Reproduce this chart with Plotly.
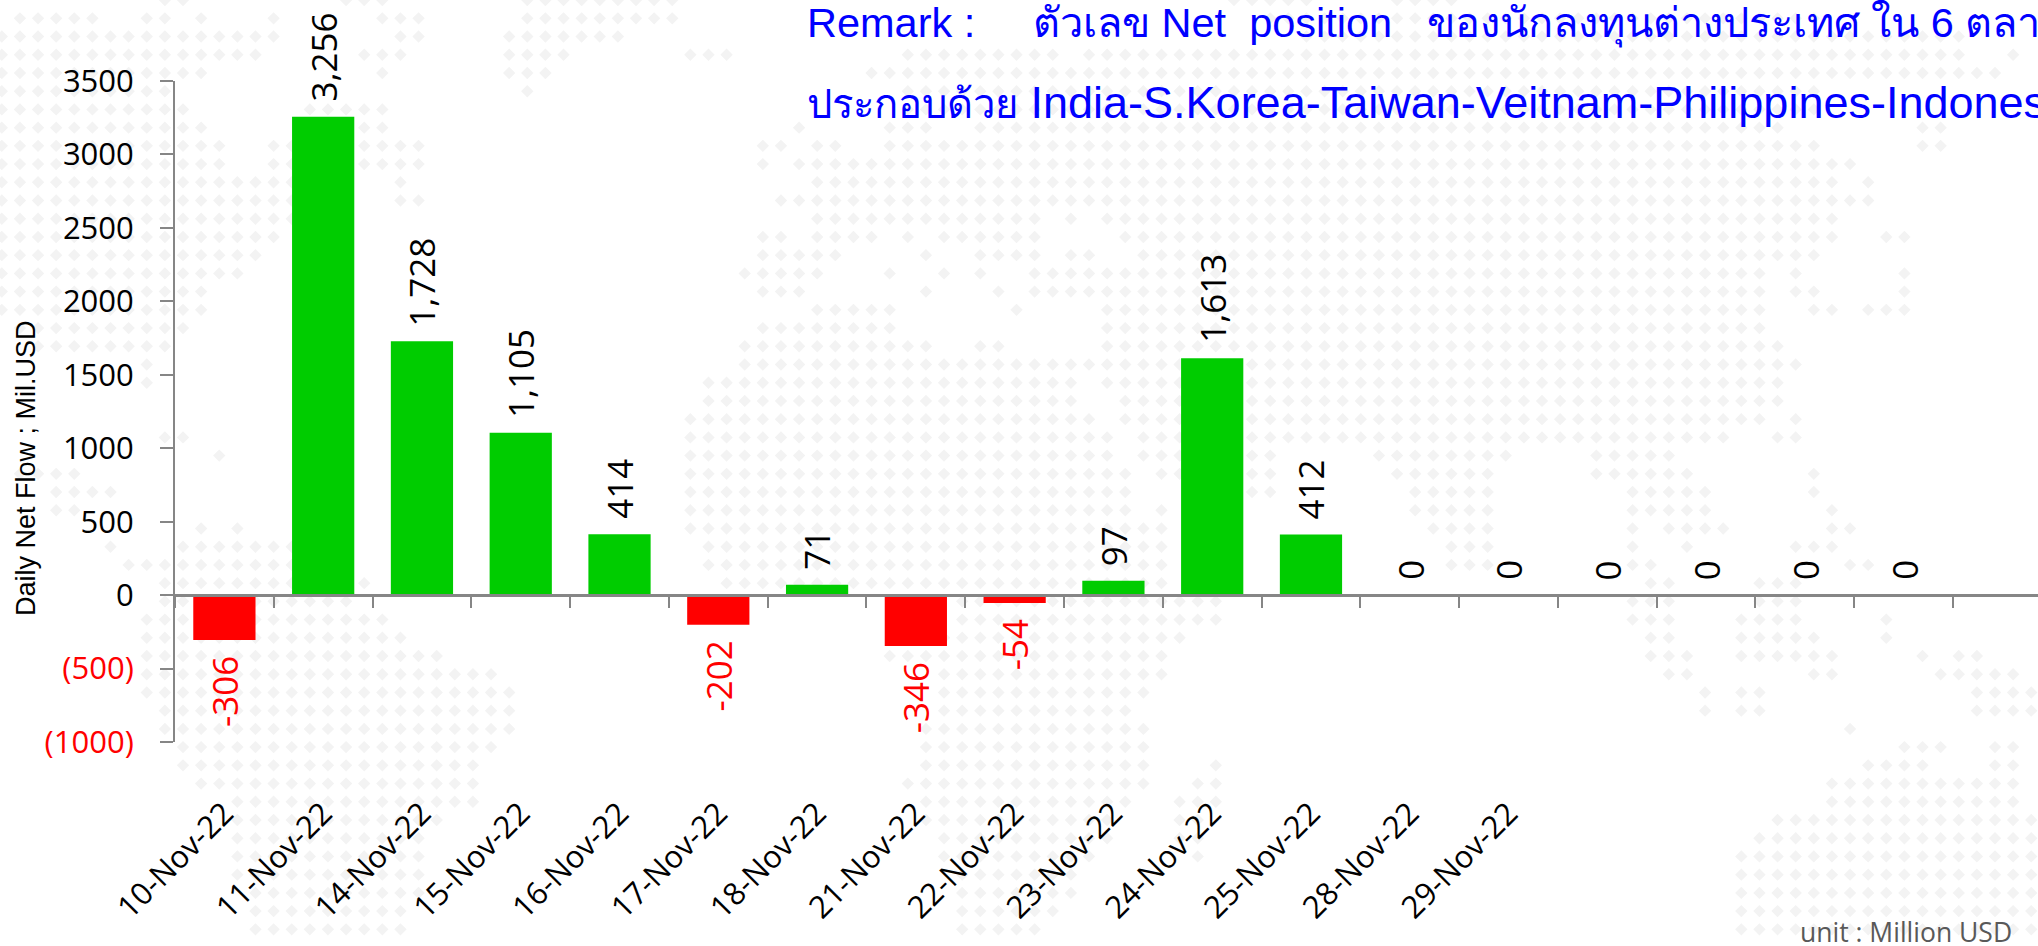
import plotly.graph_objects as go

dates = ["10-Nov-22","11-Nov-22","14-Nov-22","15-Nov-22","16-Nov-22","17-Nov-22","18-Nov-22",
         "21-Nov-22","22-Nov-22","23-Nov-22","24-Nov-22","25-Nov-22","28-Nov-22","29-Nov-22",
         "30-Nov-22","1-Dec-22","2-Dec-22","5-Dec-22"]
labelled_dates = dates[:14]
net_flow = [-306,3256,1728,1105,414,-202,71,-346,-54,97,1613,412,0,0,0,0,0,0]
y_ticks = [-1000,-500,0,500,1000,1500,2000,2500,3000,3500]
y_text = ['<span style="color:#ff0000">(1000)</span>','<span style="color:#ff0000">(500)</span>',
          "0","500","1000","1500","2000","2500","3000","3500"]
y_title = "Daily Net Flow ; Mil.USD"
remark1 = "Remark :     ตัวเลข Net  position   ของนักลงทุนต่างประเทศ ใน 6 ตลาด"
remark2_thai = "ประกอบด้วย"
remark2_latin = " India-S.Korea-Taiwan-Veitnam-Philippines-Indonesia"
unit = "unit : Million USD"

# Decorative dotted world map behind the chart: for each grid row, the runs of filled columns.
map_rows = [
 [(9,10),(19,21),(29,37),(68,72),(77,80)],
 [(1,5),(8,9),(11,11),(15,15),(21,23),(29,37),(70,100)],
 [(0,15),(22,23),(28,34),(72,108)],
 [(0,14),(20,22),(28,31),(38,40),(50,58),(60,108),(111,111)],
 [(0,11),(21,21),(28,30),(48,110)],
 [(0,9),(29,29),(50,100)],
 [(0,10),(17,21),(50,100)],
 [(0,11),(20,21),(44,44),(49,51),(54,98),(106,107)],
 [(0,12),(15,16),(20,23),(42,43),(45,46),(49,100),(106,107)],
 [(0,12),(15,16),(20,23),(42,42),(44,102)],
 [(0,16),(22,22),(45,101),(103,103)],
 [(0,16),(22,23),(43,103)],
 [(0,16),(45,57),(59,59),(61,101)],
 [(0,15),(42,43),(45,48),(50,50),(52,57),(62,101),(104,105)],
 [(0,14),(42,46),(51,51),(54,57),(59,60),(63,100)],
 [(0,13),(41,45),(49,49),(52,52),(54,54),(57,97),(99,99),(105,105)],
 [(0,11),(42,44),(51,51),(55,55),(57,97),(99,100),(105,105)],
 [(0,11),(45,49),(56,56),(61,97),(100,101),(103,105)],
 [(1,10),(42,49),(61,97)],
 [(2,9),(41,51),(54,55),(61,98)],
 [(8,8),(41,99)],
 [(8,8),(39,59),(61,98)],
 [(39,59),(62,98)],
 [(38,60),(62,97),(99,99)],
 [(9,10),(38,61),(63,95),(98,99)],
 [(12,12),(38,61),(63,70),(76,83),(88,92)],
 [(1,4),(38,62),(64,70),(77,82),(88,93),(100,100)],
 [(3,6),(38,62),(69,70),(78,82),(90,94),(100,100)],
 [(3,4),(38,62),(64,64),(78,82),(90,94),(101,101)],
 [(11,11),(13,13),(38,64),(79,82),(90,90),(92,95),(101,102)],
 [(6,6),(10,16),(39,64),(80,82),(90,90),(93,93),(99,101)],
 [(7,16),(39,64),(80,82),(90,91),(102,103)],
 [(9,16),(20,20),(40,64),(91,92),(97,99)],
 [(9,19),(53,67),(90,92),(97,99)],
 [(8,21),(53,67),(90,92),(96,99),(104,104)],
 [(8,22),(52,65),(91,92),(96,100),(104,104)],
 [(8,24),(49,64),(91,93),(96,101),(106,106),(108,109)],
 [(8,27),(52,64),(92,93),(100,101),(107,111)],
 [(8,28),(52,63),(94,94),(96,97),(109,112)],
 [(9,28),(52,62),(94,94),(96,97),(109,112)],
 [(9,28),(51,63),(102,102)],
 [(10,27),(51,63),(105,107),(110,111)],
 [(10,26),(51,63),(67,67),(103,106),(110,111)],
 [(11,26),(50,63),(66,67),(101,111)],
 [(13,26),(51,62),(65,67),(101,111)],
 [(13,24),(51,61),(65,66),(98,112)],
 [(13,23),(52,61),(65,66),(97,112)],
 [(13,23),(52,60),(66,66),(96,112)],
 [(13,23),(53,59),(96,112)],
 [(14,23),(53,59),(96,112)],
 [(14,22),(53,58),(96,112)],
 [(14,22),(53,57),(96,112)],
 [(14,21),(54,56),(96,112)],
]
map_x0, map_dx = 1.8, 18.12
map_y0, map_dy = 0.1, 18.22
dot_x, dot_y = [], []
for r, runs in enumerate(map_rows):
    for a, b in runs:
        for c in range(a, b + 1):
            dot_x.append(map_x0 + c * map_dx)
            dot_y.append(map_y0 + r * map_dy)

GREEN, RED = "#00cc00", "#ff0000"
AXIS = "#868686"
FONT = "Open Sans"
W, H = 2038, 946
L, T, B = 175, 81, 742   # plot area in page pixels
def px(x): return x / W
def py(y): return (H - y) / H
ZERO_Y = T + (B - T) * 3500 / 4500

fig = go.Figure()
# base subplot covers the whole page and carries the decorative map
fig.add_scatter(x=dot_x, y=dot_y, xaxis="x", yaxis="y", mode="markers", cliponaxis=False, hoverinfo="skip",
                marker=dict(symbol="diamond", size=9.5, color="#f3f3f3", line_width=0), showlegend=False)
fig.add_scatter(x=dates, y=[None]*len(dates), xaxis="x2", yaxis="y2", mode="markers", showlegend=False)
fig.add_bar(x=dates, y=net_flow, width=0.63, xaxis="x3", yaxis="y2",
            marker=dict(color=[GREEN if v >= 0 else RED for v in net_flow], line_width=0),
            hoverinfo="x+y", showlegend=False)

for d, v in zip(dates, net_flow):
    fig.add_annotation(x=d, y=v, xref="x3", yref="y2", text=f"{v:,}", textangle=-90, showarrow=False,
                       yanchor="bottom" if v >= 0 else "top", yshift=13 if v >= 0 else -14,
                       font=dict(family=FONT, size=35, color="#000000" if v >= 0 else RED))

x_range = [-0.5, 18.36]
fig.update_layout(
    width=W, height=H, autosize=False, showlegend=False,
    paper_bgcolor="#ffffff", plot_bgcolor="rgba(0,0,0,0)",
    margin=dict(l=0, r=0, t=0, b=0, autoexpand=False),
    font=dict(family=FONT, color="#000000"),
    xaxis=dict(range=[0, W], domain=[0, 1], visible=False, fixedrange=True),
    yaxis=dict(range=[H, 0], domain=[0, 1], visible=False, fixedrange=True),
    xaxis2=dict(type="category", categoryorder="array", categoryarray=dates, range=x_range,
                domain=[px(L), 1], anchor="y2", side="bottom",
                tickmode="array", tickvals=labelled_dates, ticktext=labelled_dates, tickangle=-45,
                ticks="", showgrid=False, showline=False, zeroline=False,
                ticklabelstandoff=46, tickfont=dict(family=FONT, size=31)),
    xaxis3=dict(type="category", categoryorder="array", categoryarray=dates, range=x_range,
                overlaying="x2", anchor="free", position=py(ZERO_Y), side="bottom",
                showticklabels=False, tickson="boundaries", ticks="outside", ticklen=11, tickwidth=2,
                tickcolor=AXIS, showline=True, linecolor=AXIS, linewidth=3, showgrid=False, zeroline=False),
    yaxis2=dict(range=[-1000,3500], domain=[py(B), py(T)], anchor="x2", side="left",
                tickmode="array", tickvals=y_ticks, ticktext=y_text,
                ticks="outside", ticklen=13, tickwidth=2, tickcolor=AXIS, showline=True, linecolor=AXIS,
                linewidth=2, showgrid=False, zeroline=False, ticklabelstandoff=20,
                tickfont=dict(family=FONT, size=31)),
)
fig.add_annotation(xref="paper", yref="paper", x=px(26), y=py(468), xanchor="center", yanchor="middle",
                   text=y_title, textangle=-90, showarrow=False,
                   font=dict(family="Liberation Sans", size=27, color="#000000"))
fig.add_annotation(xref="paper", yref="paper", x=px(805), y=py(24), yanchor="middle", xanchor="left",
                   text=remark1, showarrow=False, font=dict(family="Liberation Sans", size=41.5, color="#0000ff"))
fig.add_annotation(xref="paper", yref="paper", x=px(805), y=py(102), yanchor="middle", xanchor="left",
                   text=f'<span style="font-size:40px">{remark2_thai}</span>{remark2_latin}', showarrow=False,
                   font=dict(family="Liberation Sans", size=45, color="#0000ff"))
fig.add_annotation(xref="paper", yref="paper", x=px(2014), y=py(932), yanchor="middle", xanchor="right",
                   text=unit, showarrow=False, font=dict(family=FONT, size=26.5, color="#595959"))
fig.write_html("out.html", config=dict(displayModeBar=False),
               post_script="document.body.style.margin='0';document.body.style.overflow='hidden';")
